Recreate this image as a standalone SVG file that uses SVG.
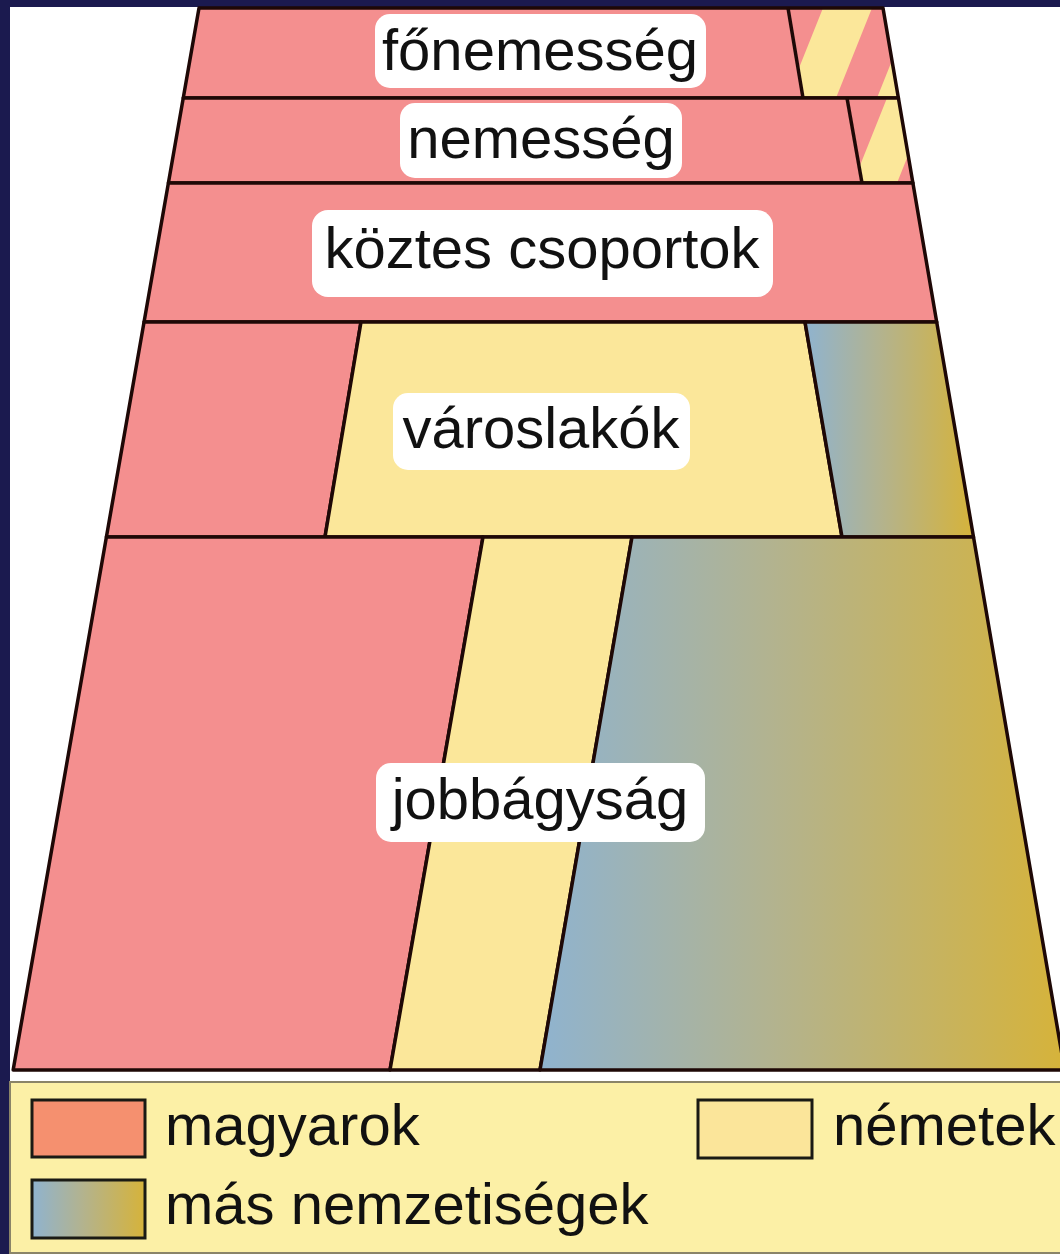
<svg xmlns="http://www.w3.org/2000/svg" width="1060" height="1254" viewBox="0 0 1060 1254">
<style>
.band{stroke:#1e0806;stroke-width:3.5;stroke-linejoin:round}
.pink{fill:#f48f8f}
.yel{fill:#fbe79a}
.mix{fill:url(#mixGrad)}
.lbl{fill:#ffffff}
.t{font-family:"Liberation Sans",Arial,sans-serif;font-size:58px;fill:#111111;text-anchor:middle}
.lt{font-family:"Liberation Sans",Arial,sans-serif;font-size:58px;fill:#111111}
.sw{stroke:#1a1a14;stroke-width:3}
</style>
<defs>
<linearGradient id="mixGrad" x1="0" y1="0" x2="1" y2="0">
<stop offset="0" stop-color="#8fb3cf"/>
<stop offset="0.45" stop-color="#b3b38e"/>
<stop offset="1" stop-color="#d6b33a"/>
</linearGradient>
<clipPath id="c1"><polygon points="788,8 883,8 898.4,98 803,98"/></clipPath>
<clipPath id="c2"><polygon points="847,98 898.4,98 912.9,183 862,183"/></clipPath>
</defs>
<rect x="0" y="0" width="1060" height="1254" fill="#ffffff"/>
<rect x="0" y="0" width="1060" height="7" fill="#1b1a4f"/>
<rect x="0" y="0" width="10" height="1254" fill="#1b1a4f"/>

<g id="fonemesseg">
<polygon class="pink" points="199,8 883,8 898.4,98 183.25,98"/>
<g clip-path="url(#c1)">
<polygon class="yel" points="823,8 872,8 836,98 787,98"/>
<polygon class="yel" points="913,8 962,8 926,98 877,98"/>
</g>
<polygon class="band" fill="none" points="199,8 883,8 898.4,98 183.25,98"/>
<line class="band" x1="788" y1="8" x2="803" y2="98"/>
<rect class="lbl" x="375" y="14" width="331" height="74" rx="15"/>
<text class="t" x="540" y="70">főnemesség</text>
</g>

<g id="nemesseg">
<polygon class="pink" points="183.25,98 898.4,98 912.9,183 168.4,183"/>
<g clip-path="url(#c2)">
<polygon class="yel" points="887,98 931,98 897,183 853,183"/>
</g>
<polygon class="band" fill="none" points="183.25,98 898.4,98 912.9,183 168.4,183"/>
<line class="band" x1="847" y1="98" x2="862" y2="183"/>
<rect class="lbl" x="400" y="103" width="282" height="75" rx="15"/>
<text class="t" x="541" y="158">nemesség</text>
</g>

<g id="koztes">
<polygon class="pink band" points="168.4,183 912.9,183 936.7,322 144.05,322"/>
<rect class="lbl" x="312" y="210" width="461" height="87" rx="16"/>
<text class="t" x="542" y="268">köztes csoportok</text>
</g>

<g id="varoslakok">
<polygon class="pink band" points="144.05,322 361,322 325,537 106.4,537"/>
<polygon class="yel band" points="361,322 805,322 842,537 325,537"/>
<polygon class="mix band" points="805,322 936.7,322 973.5,537 842,537"/>
<rect class="lbl" x="393" y="393" width="297" height="77" rx="15"/>
<text class="t" x="541" y="448">városlakók</text>
</g>

<g id="jobbagysag">
<polygon class="pink band" points="106.4,537 483,537 390,1070 13.15,1070"/>
<polygon class="yel band" points="483,537 632,537 540,1070 390,1070"/>
<polygon class="mix band" points="632,537 973.5,537 1064.6,1070 540,1070"/>
<rect class="lbl" x="376" y="763" width="329" height="79" rx="15"/>
<text class="t" x="540" y="819">jobbágyság</text>
</g>

<g id="connectors"></g>

<g id="legend">
<rect x="10" y="1082" width="1052" height="171" fill="#fcf0a6" stroke="#8a8468" stroke-width="2"/>
<rect class="sw" x="32" y="1100" width="113" height="57" fill="#f5906f"/>
<text class="lt" x="165" y="1145">magyarok</text>
<rect class="sw" x="32" y="1180" width="113" height="58" fill="url(#mixGrad)"/>
<text class="lt" x="165" y="1224">más nemzetiségek</text>
<rect class="sw" x="698" y="1100" width="114" height="58" fill="#fbe59a"/>
<text class="lt" x="833" y="1145">németek</text>
</g>
</svg>
